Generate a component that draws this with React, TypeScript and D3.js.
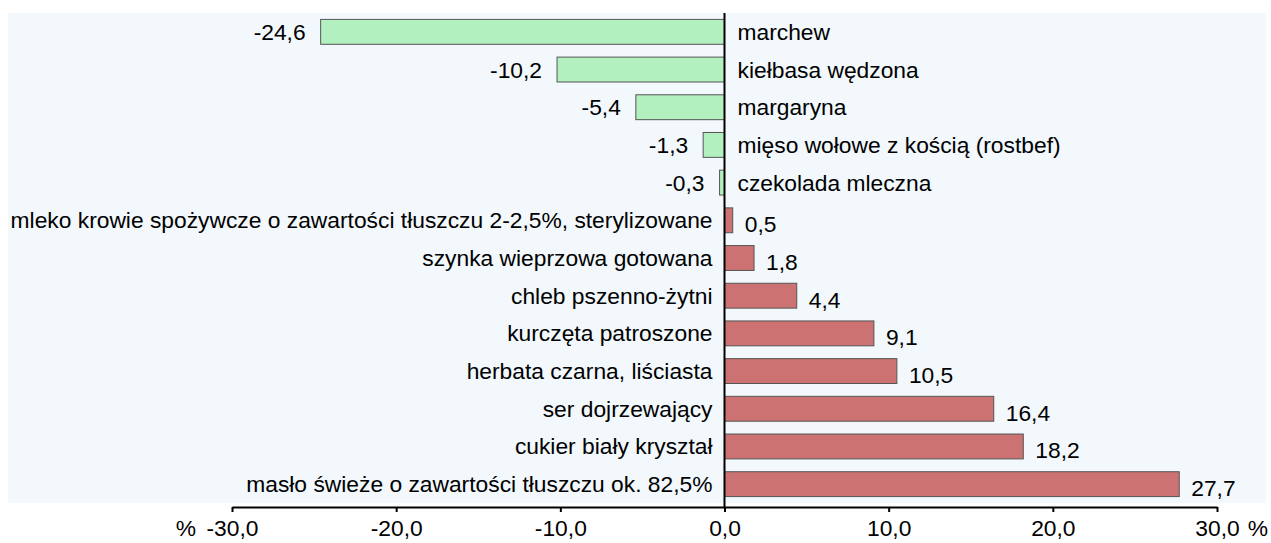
import React, { useRef, useEffect } from 'react';
import * as d3 from 'd3';

const categories = [
  'marchew',
  'kiełbasa wędzona',
  'margaryna',
  'mięso wołowe z kością (rostbef)',
  'czekolada mleczna',
  'mleko krowie spożywcze o zawartości tłuszczu 2-2,5%, sterylizowane',
  'szynka wieprzowa gotowana',
  'chleb pszenno-żytni',
  'kurczęta patroszone',
  'herbata czarna, liściasta',
  'ser dojrzewający',
  'cukier biały kryształ',
  'masło świeże o zawartości tłuszczu ok. 82,5%',
];
const values = [-24.6, -10.2, -5.4, -1.3, -0.3, 0.5, 1.8, 4.4, 9.1, 10.5, 16.4, 18.2, 27.7];
const tickValues = [-30, -20, -10, 0, 10, 20, 30];

const fmt = (v: number) => v.toFixed(1).replace('.', ',');

const App = () => {
  const svgRef = useRef<SVGSVGElement>(null);

  useEffect(() => {
    const svg = d3.select(svgRef.current);
    svg.selectAll('*').remove();

    const width = 1271;
    const height = 543;
    const font = 'Liberation Sans, Arial, sans-serif';
    const fs = 22.8;

    svg.attr('width', width).attr('height', height);

    const x = d3.scaleLinear().domain([-30, 30]).range([232, 1217]);
    const y = d3.scaleBand().domain(categories).range([13, 503]).paddingInner(0.34).paddingOuter(0.17);

    // tło wykresu
    svg.append('rect')
      .attr('x', 8).attr('y', 13).attr('width', 1258).attr('height', 490)
      .attr('fill', '#f2f8fc');

    const data = categories.map((c, i) => ({ c, v: values[i] }));

    svg.selectAll('rect.bar')
      .data(data)
      .enter()
      .append('rect')
      .attr('class', 'bar')
      .attr('x', d => x(Math.min(0, d.v)))
      .attr('y', d => y(d.c)!)
      .attr('width', d => Math.abs(x(d.v) - x(0)))
      .attr('height', y.bandwidth())
      .attr('fill', d => (d.v < 0 ? '#b3f0c0' : '#cc7272'))
      .attr('stroke', '#555')
      .attr('stroke-width', 1);

    // nazwy kategorii
    svg.selectAll('text.cat')
      .data(data)
      .enter()
      .append('text')
      .attr('class', 'cat')
      .attr('x', d => (d.v < 0 ? x(0) + 13 : x(0) - 12))
      .attr('y', d => y(d.c)! + y.bandwidth() / 2)
      .attr('dy', '0.35em')
      .attr('text-anchor', d => (d.v < 0 ? 'start' : 'end'))
      .style('font-family', font)
      .style('font-size', fs + 'px')
      .attr('fill', '#000')
      .text(d => d.c);

    // wartości
    svg.selectAll('text.val')
      .data(data)
      .enter()
      .append('text')
      .attr('class', 'val')
      .attr('x', d => (d.v < 0 ? x(d.v) - 15 : x(d.v) + 12))
      .attr('y', d => y(d.c)! + y.bandwidth() / 2 + (d.v < 0 ? 0 : 4))
      .attr('dy', '0.35em')
      .attr('text-anchor', d => (d.v < 0 ? 'end' : 'start'))
      .style('font-family', font)
      .style('font-size', fs + 'px')
      .attr('fill', '#000')
      .text(d => fmt(d.v));

    // linia zera
    svg.append('line')
      .attr('x1', x(0)).attr('x2', x(0))
      .attr('y1', 13).attr('y2', 507)
      .attr('stroke', '#000').attr('stroke-width', 2);

    // oś X
    const xAxis = d3.axisBottom(x)
      .tickValues(tickValues)
      .tickSize(5)
      .tickSizeOuter(0)
      .tickPadding(8)
      .tickFormat(d => fmt(d as number));

    const g = svg.append('g')
      .attr('transform', 'translate(0, 507)')
      .call(xAxis);
    g.select('.domain').attr('stroke', '#000').attr('stroke-width', 2);
    g.selectAll('.tick line').attr('stroke', '#000').attr('stroke-width', 2);
    g.selectAll('text')
      .style('font-family', font)
      .style('font-size', fs + 'px')
      .attr('fill', '#000');

    // jednostki
    svg.append('text')
      .attr('x', x(-30) - 46).attr('y', 536)
      .attr('text-anchor', 'middle')
      .style('font-family', font).style('font-size', fs + 'px')
      .text('%');
    svg.append('text')
      .attr('x', x(30) + 41).attr('y', 536)
      .attr('text-anchor', 'middle')
      .style('font-family', font).style('font-size', fs + 'px')
      .text('%');
  }, []);

  return (
    <svg ref={svgRef} style={{ position: 'absolute', left: 0, top: 0, display: 'block' }}></svg>
  );
};

export default App;
